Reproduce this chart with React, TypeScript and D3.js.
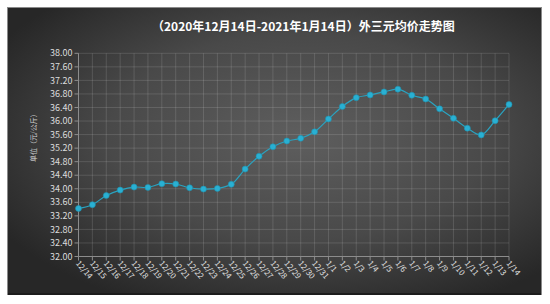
import React from "react";
import * as d3 from "d3";

const dates = [
  "12/14","12/15","12/16","12/17","12/18","12/19","12/20","12/21","12/22","12/23","12/24","12/25","12/26","12/27","12/28","12/29","12/30","12/31",
  "1/1","1/2","1/3","1/4","1/5","1/6","1/7","1/8","1/9","1/10","1/11","1/12","1/13","1/14",
];
const prices = [
  33.42, 33.53, 33.80, 33.96, 34.05, 34.04, 34.15, 34.14, 34.03, 33.99, 34.01, 34.13, 34.58, 34.96, 35.24, 35.41, 35.49, 35.68,
  36.06, 36.43, 36.69, 36.77, 36.86, 36.94, 36.76, 36.65, 36.36, 36.08, 35.79, 35.59, 36.01, 36.49,
];
const yTicks = d3.range(0, 16).map((i) => +(32 + i * 0.4).toFixed(2));
const title = "（2020年12月14日-2021年1月14日）外三元均价走势图";
const yTitle = "单位（元/公斤）";

export default function App() {
  const W = 550, H = 304;
  const left = 78.5, right = 509, top = 53.3, bottom = 256.5;
  const x = d3.scalePoint<string>().domain(dates).range([left, right]);
  const y = d3.scaleLinear().domain([32, 38]).range([bottom, top]);
  const line = d3
    .line<number>()
    .x((_, i) => x(dates[i]) as number)
    .y((d) => y(d))
    .curve(d3.curveCatmullRom.alpha(0.5));
  const font = "'Noto Sans CJK SC', 'Noto Sans', sans-serif";
  return (
    <svg width={W} height={H} style={{ position: "absolute", left: 0, top: 0, background: "#fff" }}>
      <defs>
        <radialGradient id="bg" cx="55%" cy="45%" r="65%">
          <stop offset="0%" stopColor="#5e5e5e" />
          <stop offset="55%" stopColor="#494949" />
          <stop offset="100%" stopColor="#272727" />
        </radialGradient>
      </defs>
      <rect x={7} y={7} width={535} height={288} fill="url(#bg)" />
      <rect x={7.5} y={7.5} width={534} height={287} fill="none" stroke="#8a8a8a" strokeWidth={1} />
      <line x1={8} x2={541} y1={294} y2={294} stroke="#1c1c1c" strokeWidth={2} />
      <text x={152} y={31} fill="#fff" fontSize={12} fontWeight="bold" fontFamily={font}>
        {title}
      </text>
      {yTicks.map((t) => (
        <line key={"h" + t} x1={left} x2={right} y1={y(t)} y2={y(t)} stroke="#ffffff" strokeOpacity={0.13} />
      ))}
      {dates.map((d) => (
        <line key={"v" + d} x1={x(d)} x2={x(d)} y1={top} y2={bottom} stroke="#ffffff" strokeOpacity={0.13} />
      ))}
      <line x1={left} x2={left} y1={top} y2={bottom} stroke="#8c8c8c" />
      <line x1={left} x2={right} y1={bottom} y2={bottom} stroke="#8c8c8c" />
      {yTicks.map((t) => (
        <g key={"yt" + t}>
          <line x1={left - 4} x2={left} y1={y(t)} y2={y(t)} stroke="#8c8c8c" />
          <text x={72.5} y={y(t)} dy="0.35em" textAnchor="end" fill="#dcdcdc" fontSize={9} fontFamily={font}>
            {t.toFixed(2)}
          </text>
        </g>
      ))}
      {dates.map((d) => (
        <g key={"xt" + d}>
          <line x1={x(d)} x2={x(d)} y1={bottom} y2={bottom + 4} stroke="#8c8c8c" />
          <text
            transform={`translate(${(x(d) as number) - 3},${bottom + 7}) rotate(50)`}
            fill="#e0e0e0"
            fontSize={8}
            fontFamily={font}
          >
            {d}
          </text>
        </g>
      ))}
      <text
        transform={`translate(36,136) rotate(-90)`}
        textAnchor="middle"
        fill="#d0d0d0"
        fontSize={7}
        fontFamily={font}
      >
        {yTitle}
      </text>
      <path d={line(prices) || ""} fill="none" stroke="#2aa3c0" strokeWidth={1.2} />
      {prices.map((v, i) => (
        <circle key={"p" + i} cx={x(dates[i])} cy={y(v)} r={3} fill="#29b0d3" stroke="#1f8fab" strokeWidth={0.6} />
      ))}
    </svg>
  );
}
